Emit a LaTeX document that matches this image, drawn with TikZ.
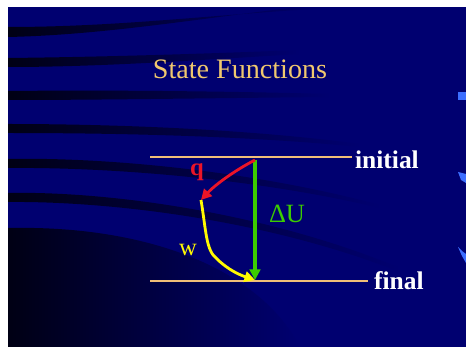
\documentclass[tikz,border=0pt]{standalone}
\usepackage{fontspec}
\setmainfont{Liberation Serif}
\usetikzlibrary{arrows.meta,positioning,calc}
\definecolor{navy}{RGB}{0,0,112}
\definecolor{streak}{RGB}{0,0,20}
\definecolor{levelcol}{RGB}{240,190,120}
\definecolor{titlecol}{RGB}{240,200,110}
\definecolor{qred}{RGB}{235,20,40}
\definecolor{wyellow}{RGB}{255,250,0}
\definecolor{ugreen}{RGB}{60,205,0}
\definecolor{edgeblue}{RGB}{60,110,255}
\tikzset{
  level/.style={draw=levelcol, line width=1.2pt},
  levellabel/.style={text=white, font=\fontsize{14.5}{16}\selectfont\bfseries, anchor=west, inner sep=1pt},
  arrow/.style={-{Triangle[length=6pt,width=6pt]}, line width=1.6pt},
  band/.style={left color=streak, right color=navy, draw=none}
}

\begin{document}
\begin{tikzpicture}[x=0.02cm, y=-0.02cm]
  \useasboundingbox (0,0) rectangle (466,347);
  % background
  \fill[navy] (8,7) rectangle (466,347);
  \shade[band] (8,27) .. controls (120,27) and (220,14) .. (330,8) -- (290,8) .. controls (190,20) and (100,35) .. (8,37) -- cycle;
  \shade[band] (8,58) .. controls (100,57) and (200,54) .. (300,50) -- (300,54) .. controls (200,60) and (100,67) .. (8,67) -- cycle;
  \shade[band] (8,91) .. controls (100,90) and (220,91) .. (330,94) -- (330,97) .. controls (220,98) and (100,100) .. (8,100) -- cycle;
  \shade[band] (8,124) .. controls (100,124) and (240,128) .. (360,144) -- (360,147) .. controls (240,135) and (100,133) .. (8,133) -- cycle;
  \shade[band] (8,159) .. controls (100,157) and (250,170) .. (380,205) -- (380,208) .. controls (250,177) and (100,167) .. (8,168) -- cycle;
  \shade[band] (8,193) .. controls (100,191) and (260,210) .. (400,268) -- (400,272) .. controls (260,217) and (100,201) .. (8,202) -- cycle;
  \shade[band] (8,228) .. controls (150,225) and (260,270) .. (300,347) -- (8,347) -- cycle;
  \fill[edgeblue] (458,92) rectangle (466,100);
  \fill[edgeblue] (458,172) -- (466,174) -- (466,183) -- (461,180) -- cycle;
  \fill[edgeblue] (458,247) -- (462,251) -- (466,254) -- (466,263) -- (462,256) -- cycle;

  \node[text=titlecol, font=\fontsize{16}{18}\selectfont] (title) at (240,69) {State Functions};

  % energy levels
  \coordinate (initL) at (150,157);
  \coordinate (initR) at (352,157);
  \coordinate (finL) at (150,281);
  \coordinate (finR) at (368,281);
  \draw[level] (initL) -- (initR);
  \draw[level] (finL) -- (finR);
  \node[levellabel] (initial) at ($(initR)+(1,3)$) {initial};
  \node[levellabel] (final) at ($(finR)+(4,0)$) {final};

  % paths between the states
  \coordinate (top) at (255,160);
  \coordinate (mid) at (201,200);
  \coordinate (bot) at (255,280);
  \draw[arrow, ugreen, line width=1.8pt] (top) -- (bot);
  \draw[arrow, qred] (top) .. controls (232,172) and (214,186) .. (mid);
  \draw[arrow, wyellow] (mid) .. controls (206,230) and (206,250) .. (216,258) .. controls (228,270) and (240,275) .. (bot);

  \node[text=qred, font=\fontsize{14}{16}\selectfont\bfseries] (q) at (197,172) {q};
  \node[text=wyellow, font=\fontsize{14}{16}\selectfont] (w) at (188,250) {w};
  \node[text=ugreen, font=\fontsize{15}{17}\selectfont] (dU) at (287,214) {ΔU};
\end{tikzpicture}
\end{document}
